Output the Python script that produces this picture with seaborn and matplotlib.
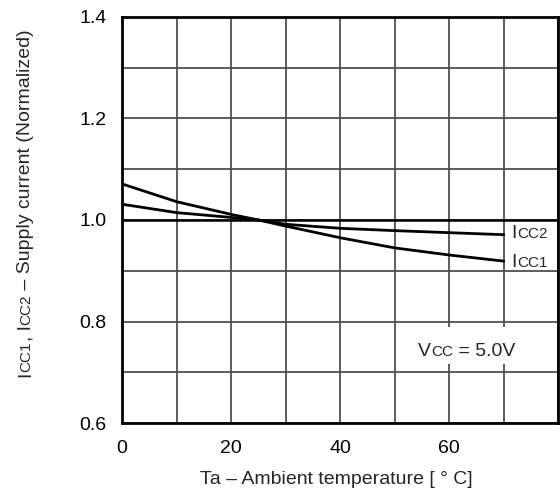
import numpy as np
import pandas as pd
import matplotlib
matplotlib.use("Agg")
import matplotlib.pyplot as plt
import matplotlib.patches as mpatches
import matplotlib.transforms as mtransforms
import seaborn as sns

# Données (Vcc = 5.0 V)
temperature = [0, 10, 20, 25, 30, 40, 50, 60, 70]
icc1 = [1.071, 1.036, 1.011, 1.000, 0.988, 0.965, 0.945, 0.931, 0.919]
icc2 = [1.031, 1.0145, 1.005, 1.000, 0.9915, 0.9836, 0.979, 0.975, 0.971]
x_ticks = [0, 20, 40, 60]
y_ticks = [0.6, 0.8, 1.0, 1.2, 1.4]

sns.set_style("white")
plt.rcParams['font.family'] = ['Liberation Sans', 'DejaVu Sans']

df = pd.DataFrame({
    'Ta': temperature * 2,
    'Icc': icc1 + icc2,
    'serie': ['ICC1'] * len(icc1) + ['ICC2'] * len(icc2),
})

fig = plt.figure(figsize=(5.6, 4.96), dpi=100)
ax = fig.add_axes([0.218, 0.147, 0.779, 0.819])

sns.lineplot(data=df, x='Ta', y='Icc', units='serie', estimator=None,
             color='black', linewidth=2.0, ax=ax, zorder=5)

ax.set_xlim(0, 80)
ax.set_ylim(0.6, 1.4)
ax.set_xticks(np.arange(0, 81, 10), minor=True)
ax.set_yticks(np.arange(0.6, 1.41, 0.1), minor=True)
ax.set_xticks(x_ticks)
ax.set_yticks(y_ticks)
ax.set_xticklabels([str(v) for v in x_ticks])
ax.set_yticklabels([f"{v:.1f}" for v in y_ticks])
ax.grid(True, which='both', color='#505050', linewidth=1.3)
ax.axhline(1.0, color='black', linewidth=1.8, zorder=3)
ax.tick_params(which='both', length=0, labelsize=14, colors='black')
ax.tick_params(axis='y', pad=11)
ax.tick_params(axis='x', pad=12)
ax.set_xlabel('')
ax.set_ylabel('')
for sp in ax.spines.values():
    sp.set_color('black')
    sp.set_linewidth(2)

renderer = fig.canvas.get_renderer()


# Texte en morceaux (indice en petites capitales, même ligne de base)
def rich_text(x, y, parts, transform, rotation=0, **kw):
    off = 0.0
    for s, size in parts:
        tr = mtransforms.offset_copy(transform, fig=fig,
                                     x=0 if rotation else off,
                                     y=off if rotation else 0, units='dots')
        t = fig.text(x, y, s, fontsize=size, rotation=rotation, transform=tr,
                     ha='left', va='baseline', rotation_mode='anchor', **kw)
        bb = t.get_window_extent(renderer)
        off += bb.height if rotation else bb.width


rich_text(71.4, icc2[-1] - 0.0065, [('I', 14), ('CC2', 11)], ax.transData, zorder=6)
rich_text(71.4, icc1[-1] - 0.011, [('I', 14), ('CC1', 11)], ax.transData, zorder=6)

# fond blanc pour l'annotation Vcc
ax.add_patch(mpatches.Rectangle((52, 0.716), 24.5, 0.074, facecolor='white',
                                edgecolor='none', zorder=4))
rich_text(54.3, 0.7325, [('V', 14), ('CC', 11), (' = 5.0V', 14)], ax.transData, zorder=6)

rich_text(0.054, 0.24, [('I', 14), ('CC1', 11), (', I', 14), ('CC2', 11),
                        (' \u2013 Supply current (Normalized)', 14)],
          fig.transFigure, rotation=90)

fig.text(0.601, 0.034, 'Ta \u2013 Ambient temperature [ \u00b0 C]', fontsize=14,
         ha='center', va='center')

fig.savefig('out.png', dpi=100, facecolor='white')
